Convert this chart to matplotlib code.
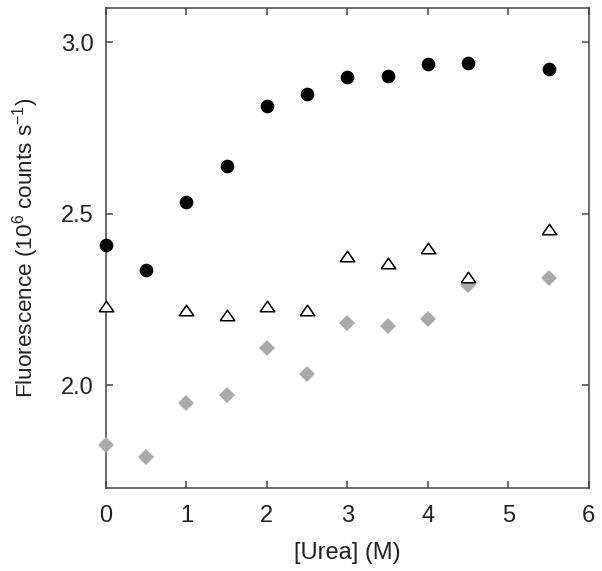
import matplotlib
matplotlib.use('Agg')
import matplotlib.pyplot as plt
import numpy as np

plt.rcParams['font.family'] = ['Liberation Sans', 'DejaVu Sans']
plt.rcParams['mathtext.default'] = 'regular'

urea = [0, 0.5, 1, 1.5, 2, 2.5, 3, 3.5, 4, 4.5, 5.5]
circles = [2.408, 2.335, 2.534, 2.638, 2.815, 2.848, 2.899, 2.901, 2.937, 2.939, 2.923]
urea_tri = [0, 1, 1.5, 2, 2.5, 3, 3.5, 4, 4.5, 5.5]
triangles = [2.232, 2.219, 2.204, 2.230, 2.219, 2.376, 2.355, 2.399, 2.315, 2.454]
diamonds = [1.825, 1.790, 1.947, 1.970, 2.108, 2.032, 2.182, 2.172, 2.194, 2.293, 2.313]

txt = '#222222'
# wide, flat open triangle like the original
tri = [(-1, -0.72), (1, -0.72), (0, 0.72), (-1, -0.72)]

fig = plt.figure(figsize=(6.02, 5.71), dpi=100)
ax = fig.add_axes([0.176, 0.1454, 0.802, 0.8406])

ax.plot(urea, diamonds, 'D', color='#aaaaaa', markersize=8.3, markeredgewidth=0, clip_on=False, zorder=3)
ax.plot(urea_tri, triangles, linestyle='none', marker=tri, markerfacecolor='white', markeredgecolor='black',
        markersize=10.5, markeredgewidth=1.1, clip_on=False, zorder=4)
ax.plot(urea, circles, 'o', color='black', markersize=8.8, clip_on=False, zorder=5)

ax.set_xlim(0, 6)
ax.set_ylim(1.7, 3.1)
ax.set_xticks([0, 1, 2, 3, 4, 5, 6])
ax.set_yticks([2.0, 2.5, 3.0])
ax.set_yticklabels(['2.0', '2.5', '3.0'])

for s in ax.spines.values():
    s.set_color('#444444')
    s.set_linewidth(1.1)
ax.tick_params(direction='in', length=5, width=1.1, color='#444444', top=True, right=True,
               labelsize=17, labelcolor=txt)
ax.tick_params(axis='y', pad=9)
ax.tick_params(axis='x', pad=12)

ax.set_xlabel('[Urea] (M)', fontsize=17, color=txt, labelpad=11)
ax.set_ylabel('Fluorescence (10$^6$ counts s$^{-1}$)', fontsize=16.2, color=txt, labelpad=14)

fig.savefig('out.png', dpi=100)
